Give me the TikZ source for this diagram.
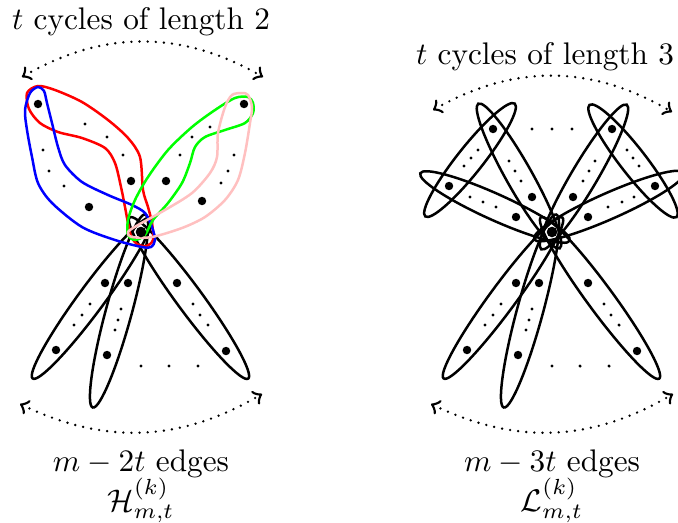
\documentclass[tikz,border=0pt]{standalone}
\usepackage{amsmath,amssymb}
\usepackage{tikz}
\usetikzlibrary{arrows.meta}
\definecolor{cycpink}{HTML}{FFC0C0}

\begin{document}
\begin{tikzpicture}[x=0.32pt, y=-0.32pt, thick, >=to,
    lab/.style={anchor=base, inner sep=0pt},
    arcdots/.style={line width=0.85pt, line cap=round, dash pattern=on 0pt off 2.6pt}]
  \useasboundingbox (0,0) rectangle (678,522);
  % labels
  \node[lab] (cyc2) at (141,30) {$t$ cycles of length 2};
  \node[lab] (cyc3) at (545,64) {$t$ cycles of length 3};
  \node[lab] (edg2) at (141,471) {$m-2t$ edges};
  \node[lab] (hname) at (141,511) {$\mathcal{H}^{(k)}_{m,t}$};
  \node[lab] (edg3) at (552,471) {$m-3t$ edges};
  \node[lab] (lname) at (552,511) {$\mathcal{L}^{(k)}_{m,t}$};

  % dotted arcs
  \coordinate (ul1) at (22,77);   \coordinate (ul2) at (263,77);
  \coordinate (dl1) at (20,404);  \coordinate (dl2) at (262,394);
  \coordinate (ur1) at (433,110); \coordinate (ur2) at (672,112);
  \coordinate (dr1) at (431,404); \coordinate (dr2) at (673,394);
  \draw[arcdots,<->] (ul1) to[bend left=30] (ul2);
  \draw[arcdots,<->] (ur1) to[bend left=30] (ur2);
  \draw[arcdots,<->] (dl1) to[bend right=28] (dl2);
  \draw[arcdots,<->] (dr1) to[bend right=28] (dr2);

  % the m-kt single edges, same in both pictures
  \foreach \sx in {0,411}{
    \begin{scope}[shift={(\sx,0)}]
      \draw[rotate around={53.6:(92,298)}] (92,298) ellipse [x radius=100, y radius=13];
      \draw[rotate around={74.8:(119,311)}] (119,311) ellipse [x radius=100, y radius=13];
      \draw[rotate around={126.3:(189,298)}] (189,298) ellipse [x radius=100, y radius=13];
      \foreach \p in {(105,283),(56,350),(128,283),(107,355),(177,283),(226,351)}
        \fill \p circle (1.35pt);
      \foreach \p in {(90,304),(82,315),(74,325),(121,309),(118,320),(115,330),
                      (193,304),(200,315),(208,325),(141,366),(169,366),(198,366)}
        \fill \p circle (0.55pt);
    \end{scope}
  }

  % cycles of length 2
  \draw[red] plot[smooth cycle] coordinates {(27,93) (38,86) (55,90) (82,102) (108,120)
    (128,138) (140,157) (143,190) (148,207) (152,223) (153,240) (146,246) (137,244)
    (131,236) (128,223) (125,207) (121,187) (115,163) (105,148) (82,138) (58,132) (40,123) (29,109)};
  \draw[blue] plot[smooth cycle] coordinates {(38,87) (44,91) (47,103) (52,123) (58,147)
    (65,165) (82,182) (108,195) (132,205) (145,213) (152,227) (155,240) (151,247) (142,247)
    (115,240) (82,227) (52,203) (38,183) (32,157) (27,130) (25,110) (30,93)};
  \draw[green] plot[smooth cycle] coordinates {(248,97) (253,103) (253,113) (245,123)
    (225,130) (205,137) (195,147) (190,163) (182,183) (168,203) (153,220) (145,235)
    (135,240) (128,235) (128,220) (135,200) (148,177) (168,150) (192,127) (215,110) (235,98)};
  \draw[cycpink] plot[smooth cycle] coordinates {(242,93) (248,95) (252,107) (250,123)
    (245,153) (238,180) (225,200) (205,217) (182,228) (152,237) (132,237) (128,232)
    (138,225) (165,210) (192,193) (210,173) (217,157) (218,133) (225,107) (232,95)};
  \foreach \p in {(38,104),(131,181),(89,207),(244,104),(166,181),(202,201)}
    \fill \p circle (1.35pt);
  \foreach \p in {(85,124),(107,137),(123,155),(43,150),(49,171),(64,186),
                  (210,127),(192,137),(180,155),(234,155),(228,171),(221,183)}
    \fill \p circle (0.55pt);
  \fill (141,232) circle (1.7pt);

  % cycles of length 3
  \draw[rotate around={51.6:(470,160)}] (470,160) ellipse [x radius=72, y radius=13];
  \draw[rotate around={-60.6:(519,176)}] (519,176) ellipse [x radius=83, y radius=13];
  \draw[rotate around={-24.3:(495,207)}] (495,207) ellipse [x radius=82, y radius=13];
  \draw[rotate around={-52.2:(633,161)}] (633,161) ellipse [x radius=71, y radius=13];
  \draw[rotate around={59.4:(584,177)}] (584,177) ellipse [x radius=84, y radius=13];
  \draw[rotate around={23.9:(609,206)}] (609,206) ellipse [x radius=82, y radius=13];
  \foreach \p in {(493,129),(449,186),(532,197),(516,217),(612,129),(655,186),(573,197),(588,217)}
    \fill \p circle (1.35pt);
  \foreach \p in {(478,150),(471,158),(464,166),(509,161),(515,171),(521,181),
                  (470,197),(483,202),(496,207),(595,161),(589,171),(583,181),
                  (627,150),(633,158),(639,166),(608,207),(622,202),(634,197),
                  (532,129),(552,129),(572,129)}
    \fill \p circle (0.55pt);
  \fill (552,232) circle (1.7pt);
\end{tikzpicture}
\end{document}
